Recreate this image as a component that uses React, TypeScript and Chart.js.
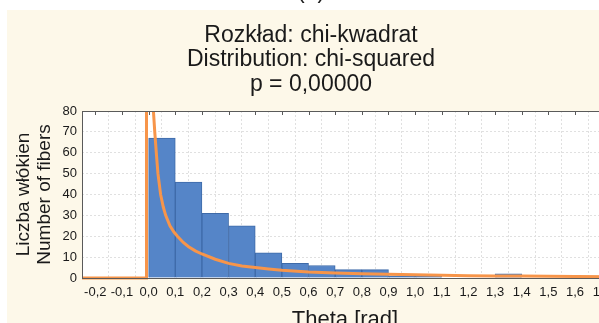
import React, { useEffect, useRef } from "react";
import { Chart, registerables } from "chart.js";

Chart.register(...registerables);

const titleLines = ["Rozkład: chi-kwadrat", "Distribution: chi-squared", "p = 0,00000"];
const yTitleLines = ["Liczba włókien", "Number of fibers"];
const xTitle = "Theta [rad]";
const panelLabel = "(a)";

// histogram bins (centres) and counts
const binCenters = [0.05, 0.15, 0.25, 0.35, 0.45, 0.55, 0.65, 0.75, 0.85, 0.95, 1.05, 1.15, 1.25, 1.35];
const binCounts = [67, 46, 31, 25, 12, 7, 6, 4, 4, 1, 1, 0, 0, 2];

// fitted chi-squared curve
const curveX = [-0.25, -0.008, -0.008, 0.016, 0.018, 0.023, 0.03, 0.035, 0.045, 0.055, 0.064, 0.08, 0.095, 0.108, 0.13, 0.15, 0.175, 0.2, 0.25, 0.3, 0.35, 0.4, 0.45, 0.5, 0.6, 0.7, 0.8, 0.9, 1.0, 1.1, 1.2, 1.3, 1.4, 1.5, 1.6, 1.75];
const curveY = [0, 0, 90, 90, 80, 70, 58, 50, 40, 34, 30, 25, 22, 20, 17, 15, 13, 11.5, 9, 7.0, 5.8, 5.0, 4.3, 3.7, 2.9, 2.4, 2.0, 1.8, 1.5, 1.3, 1.1, 1.0, 0.9, 0.8, 0.7, 0.6];

// x tick values
const xTicks = [-0.2, -0.1, 0.0, 0.1, 0.2, 0.3, 0.4, 0.5, 0.6, 0.7, 0.8, 0.9, 1.0, 1.1, 1.2, 1.3, 1.4, 1.5, 1.6, 1.7];

const xMin = -0.25;
const xMax = 1.75;
const yMin = 0;
const yMax = 80;
const yStep = 10;

const FONT = "'Liberation Sans', Arial, sans-serif";

const fmt = (v: number) => {
  const r = Math.round(v * 10) / 10;
  const s = (Math.abs(r) < 1e-9 ? 0 : r).toFixed(1);
  return s.replace(".", ",");
};

const decor = {
  id: "decor",
  beforeDraw(chart: any) {
    const { ctx, chartArea: a } = chart;
    ctx.save();
    ctx.fillStyle = "#fdf8e9";
    ctx.fillRect(7, 10, chart.width, chart.height);
    ctx.fillStyle = "#ffffff";
    ctx.fillRect(a.left, a.top, a.right - a.left, a.bottom - a.top);
    ctx.restore();
  },
  afterDraw(chart: any) {
    const { ctx, chartArea: a } = chart;
    ctx.save();
    // frame
    ctx.strokeStyle = "#5a5a5a";
    ctx.lineWidth = 1;
    ctx.strokeRect(Math.round(a.left) + 0.5, Math.round(a.top) + 0.5, a.right - a.left, a.bottom - a.top);
    // top ticks
    const xs = chart.scales.x;
    ctx.beginPath();
    xs.ticks.forEach((t: any) => {
      const px = Math.round(xs.getPixelForValue(t.value)) + 0.5;
      ctx.moveTo(px, a.top);
      ctx.lineTo(px, a.top + 4);
    });
    ctx.stroke();

    ctx.fillStyle = "#1a1a1a";
    ctx.textAlign = "center";
    // panel label (mostly cut off)
    ctx.font = `23px ${FONT}`;
    ctx.textBaseline = "alphabetic";
    ctx.fillText(panelLabel, 311, -2);
    // main title
    ctx.textBaseline = "middle";
    const tys = [36, 60, 85];
    titleLines.forEach((l, i) => ctx.fillText(l, 311, tys[i]));
    // x title
    ctx.font = `22px ${FONT}`;
    ctx.fillText(xTitle, 345, 320);
    // y title
    ctx.font = `19px ${FONT}`;
    const cy = (a.top + a.bottom) / 2;
    const yxs = [24, 45];
    yTitleLines.forEach((l, i) => {
      ctx.save();
      ctx.translate(yxs[i], cy);
      ctx.rotate(-Math.PI / 2);
      ctx.fillText(l, 0, 0);
      ctx.restore();
    });
    ctx.restore();
  },
};

export default function App() {
  const ref = useRef<HTMLCanvasElement>(null);
  useEffect(() => {
    if (!ref.current) return;
    const chart = new Chart(ref.current, {
      data: {
        datasets: [
          {
            type: "line",
            data: curveX.map((x, i) => ({ x, y: curveY[i] })),
            borderColor: "#f7954a",
            borderWidth: 3,
            pointRadius: 0,
            tension: 0,
            order: 0,
            clip: { left: 0, top: 0, right: 0, bottom: 2 },
          } as any,
          {
            type: "bar",
            data: binCenters.map((x, i) => ({ x, y: binCounts[i] })),
            backgroundColor: "#5585c8",
            borderColor: "#3e6aa8",
            borderWidth: 1,
            barPercentage: 1,
            categoryPercentage: 1,
            order: 1,
          } as any,
        ],
      },
      options: {
        animation: false,
        responsive: false,
        devicePixelRatio: 1,
        layout: { padding: { top: 111, left: 0, right: 7, bottom: 0 } },
        plugins: { legend: { display: false }, tooltip: { enabled: false }, title: { display: false } },
        scales: {
          x: {
            type: "linear",
            min: xMin,
            max: xMax,
            offset: false,
            border: { display: false, dash: [2, 2] },
            grid: { color: "#e0e0e0", drawTicks: false } as any,
            afterBuildTicks: (s: any) => {
              s.ticks = xTicks.map((v) => ({ value: v }));
            },
            ticks: {
              autoSkip: false,
              maxRotation: 0,
              padding: 7,
              color: "#1a1a1a",
              font: { family: FONT, size: 13 },
              callback: (v: any) => fmt(Number(v)),
            },
            afterFit: (s: any) => {
              s.height = 67;
            },
          },
          y: {
            min: yMin,
            max: yMax,
            border: { display: false, dash: [2, 2] },
            grid: { color: "#e0e0e0", drawTicks: false } as any,
            ticks: {
              stepSize: yStep,
              padding: 5,
              color: "#1a1a1a",
              font: { family: FONT, size: 13 },
            },
            afterFit: (s: any) => {
              s.width = 82;
            },
          },
        },
      },
      plugins: [decor],
    } as any);
    return () => chart.destroy();
  }, []);
  return (
    <div style={{ position: "fixed", left: 0, top: 0, width: 599, height: 323, overflow: "hidden", background: "#fff" }}>
      <canvas ref={ref} width={622} height={345} style={{ display: "block" }} />
    </div>
  );
}
